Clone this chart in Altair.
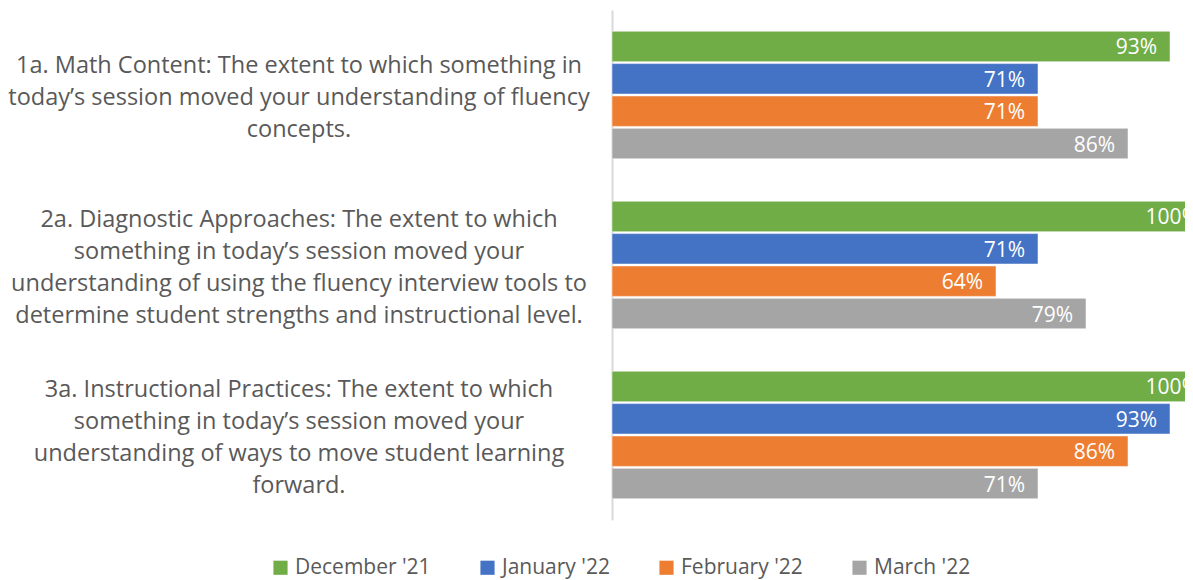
import altair as alt
import pandas as pd

categories = [
    "1a. Math Content: The extent to which something in\ntoday\u2019s session moved your understanding of fluency\nconcepts.",
    "2a. Diagnostic Approaches: The extent to which\nsomething in today\u2019s session moved your\nunderstanding of using the fluency interview tools to\ndetermine student strengths and instructional level.",
    "3a. Instructional Practices:  The extent to which\nsomething in today\u2019s session moved your\nunderstanding of ways to move student learning\nforward.",
]
series = ["December '21", "January '22", "February '22", "March '22"]
colors = ["#70ad47", "#4472c4", "#ed7d31", "#a5a5a5"]
values = {
    "December '21": [93, 100, 100],
    "January '22": [71, 71, 93],
    "February '22": [71, 64, 86],
    "March '22": [86, 79, 71],
}

rows = []
for s in series:
    for c, v in zip(categories, values[s]):
        rows.append({"cat": c, "series": s, "value": v, "label": f"{v}%"})
df = pd.DataFrame(rows)
cat_df = pd.DataFrame({"cat": categories,
                       "nlines": [c.count("\n") + 1 for c in categories]})

FONT = "Open Sans"
TXT = "#595959"
LH = 32

yscale = alt.Scale(domain=categories, paddingInner=0.25, paddingOuter=0.125)
xscale = alt.Scale(domain=[0, 95.5], nice=False)
yoff = alt.YOffset("series:N", sort=series, scale=alt.Scale(paddingInner=0.06))

base = alt.Chart(df)

bars = base.mark_bar(clip=True, stroke="white", strokeWidth=0.5).encode(
    y=alt.Y("cat:N", scale=yscale, sort=categories,
            axis=alt.Axis(labels=False, ticks=False, title=None, domain=True,
                          domainColor="#d9d9d9", domainWidth=2)),
    yOffset=yoff,
    x=alt.X("value:Q", scale=xscale, axis=None),
    color=alt.Color("series:N", sort=series,
                    scale=alt.Scale(domain=series, range=colors),
                    legend=alt.Legend(title=None, orient="none", direction="horizontal",
                                      columns=4, legendX=-342, legendY=547,
                                      symbolType="square", symbolSize=200,
                                      symbolStrokeWidth=0, labelFontSize=21,
                                      labelFont=FONT, labelColor=TXT,
                                      columnPadding=46, labelOffset=4)),
)

labels = base.mark_text(clip=True, align="right", baseline="middle", dx=-13, dy=2,
                        color="white", font=FONT, fontSize=21).encode(
    y=alt.Y("cat:N", scale=yscale, sort=categories),
    yOffset=yoff,
    x=alt.X("value:Q", scale=xscale),
    text="label:N",
)

def cat_layer(n):
    return alt.Chart(cat_df).transform_filter(
        alt.datum.nlines == n
    ).mark_text(align="center", baseline="middle", lineBreak="\n",
                font=FONT, fontSize=23.5, color=TXT, lineHeight=LH,
                dy=-(n - 1) * LH / 2 + 3).encode(
        y=alt.Y("cat:N", scale=yscale, sort=categories),
        x=alt.value(-313),
        text="cat:N",
    )

chart = alt.layer(bars, labels, cat_layer(3), cat_layer(4)).properties(
    width=573, height=510,
    autosize=alt.AutoSizeParams(type="none"),
    padding={"left": 604, "top": 2, "right": 0, "bottom": 60},
).configure_view(stroke=None)

chart.save("out.html", embed_options={"renderer": "svg", "actions": False})
